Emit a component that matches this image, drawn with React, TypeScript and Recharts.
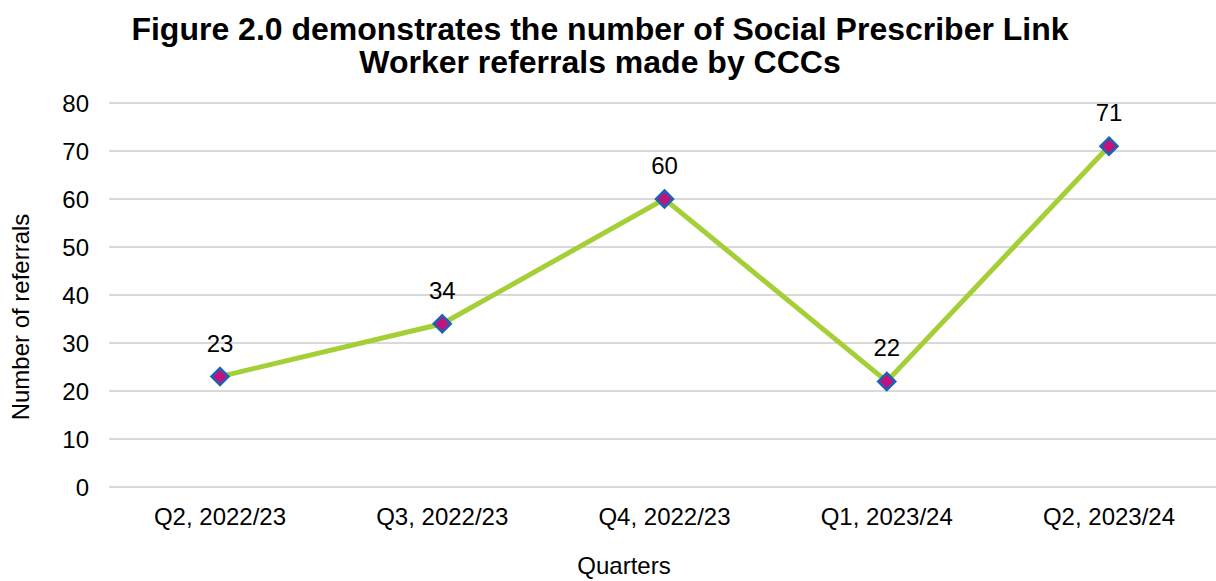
import { LineChart, Line, XAxis, YAxis, CartesianGrid, LabelList } from "recharts";

const quarters = ["Q2, 2022/23", "Q3, 2022/23", "Q4, 2022/23", "Q1, 2023/24", "Q2, 2023/24"];
const referrals = [23, 34, 60, 22, 71];
const yTicks = [0, 10, 20, 30, 40, 50, 60, 70, 80];

const data = quarters.map((q, i) => ({ quarter: q, referrals: referrals[i] }));

const FONT = "'Liberation Sans', Arial, sans-serif";

function Diamond(props: any) {
  const { cx, cy } = props;
  if (cx == null || cy == null) return null;
  const r = 8.5;
  return (
    <path
      d={`M${cx},${cy - r} L${cx + r},${cy} L${cx},${cy + r} L${cx - r},${cy} Z`}
      fill="#C0137D"
      stroke="#1C63B5"
      strokeWidth={2.5}
    />
  );
}

function YLabel() {
  return (
    <text
      x={0}
      y={0}
      transform="translate(20,317) rotate(-90)"
      textAnchor="middle"
      dominantBaseline="central"
      fontSize={24}
      fontFamily={FONT}
      fill="#000"
    >
      Number of referrals
    </text>
  );
}

export default function App() {
  return (
    <div style={{ position: "absolute", left: 0, top: 0, width: 1216, height: 581, overflow: "hidden", background: "#fff", fontFamily: FONT }}>
      <div
        style={{
          position: "absolute",
          left: 0,
          width: 1200,
          top: 13,
          textAlign: "center",
          fontWeight: "bold",
          fontSize: 32,
          lineHeight: "33px",
          color: "#000",
        }}
      >
        Figure 2.0 demonstrates the number of Social Prescriber Link
        <br />
        Worker referrals made by CCCs
      </div>
      <div style={{ position: "absolute", left: 0, top: 0 }}>
        <LineChart width={1222} height={581} data={data} margin={{ top: 103, right: 2, left: 0, bottom: 0 }}>
          <CartesianGrid vertical={false} stroke="#D9D9D9" strokeWidth={2} />
          <XAxis
            dataKey="quarter"
            height={94}
            padding={{ left: 111, right: 111 }}
            axisLine={false}
            tickLine={false}
            tickSize={6}
            tickMargin={15}
            interval={0}
            tick={{ fontSize: 24, fill: "#000", fontFamily: FONT }}
          />
          <YAxis
            width={109}
            domain={[0, 80]}
            ticks={yTicks}
            axisLine={false}
            tickLine={false}
            tickSize={6}
            tickMargin={14}
            tick={{ fontSize: 24, fill: "#000", fontFamily: FONT }}
            label={<YLabel />}
          />
          <Line
            type="linear"
            dataKey="referrals"
            stroke="#A5CF37"
            strokeWidth={5}
            dot={<Diamond />}
            activeDot={false}
            isAnimationActive={false}
          >
            <LabelList dataKey="referrals" position="top" offset={25} fontSize={24} fill="#000" fontFamily={FONT} />
          </Line>
        </LineChart>
      </div>
      <div style={{ position: "absolute", left: 524, width: 200, top: 552, textAlign: "center", fontSize: 24, lineHeight: "28px", color: "#000" }}>
        Quarters
      </div>
    </div>
  );
}
